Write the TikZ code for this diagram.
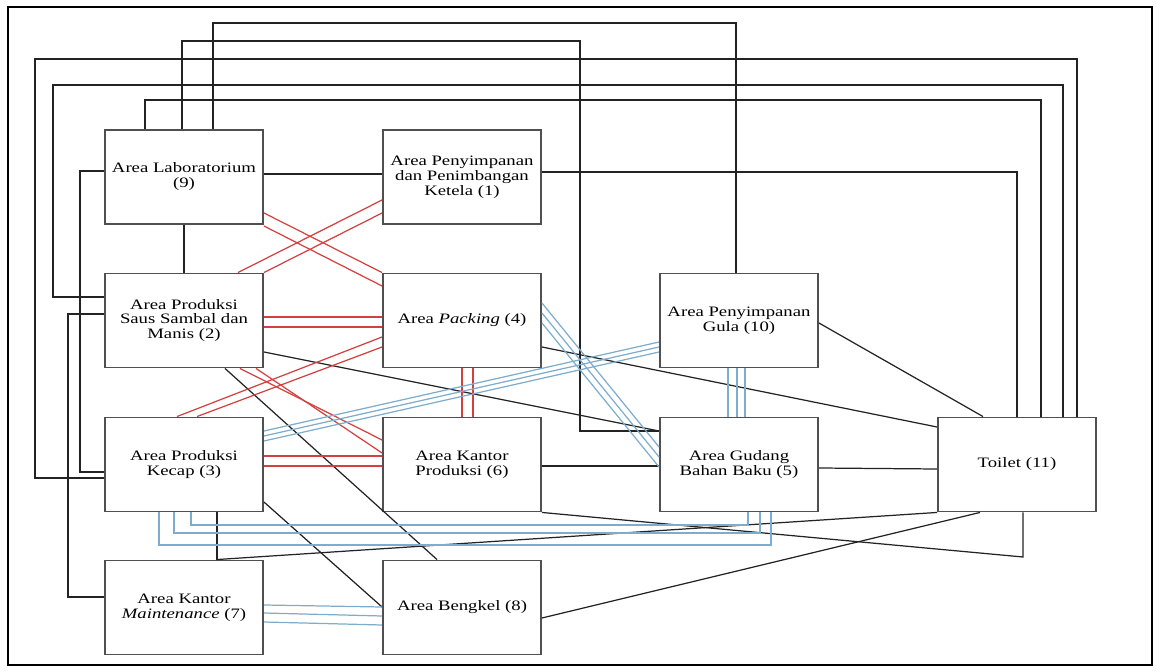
\documentclass[tikz,border=0pt]{standalone}
\usepackage{fontspec}
\setmainfont{Liberation Serif}[FakeStretch=1.3]
\definecolor{redl}{RGB}{212,64,64}
\definecolor{bluel}{RGB}{125,172,205}
\definecolor{boxc}{RGB}{80,80,80}
\definecolor{linec}{RGB}{35,35,35}
\begin{document}
\begin{tikzpicture}[x=0.02cm,y=-0.02cm,
 area/.style={draw=boxc, line width=1.1pt, minimum width=3.16cm, minimum height=1.88cm, inner sep=0pt, align=center, font=\fontsize{8.2}{8.5}\selectfont},
 blk/.style={draw=linec, line width=0.7pt},
 rd/.style={draw=redl, line width=0.7pt},
 bl/.style={draw=bluel, line width=0.7pt}]
\useasboundingbox (0,0) rectangle (1160,672);
\draw[line width=1.3pt] (8,7) rectangle (1152,665);

\node[area] (n9) at (184,177) {Area Laboratorium\\(9)};
\node[area] (n1) at (462,177) {Area Penyimpanan\\dan Penimbangan\\Ketela (1)};
\node[area] (n2) at (184,320.5) {Area Produksi\\Saus Sambal dan\\Manis (2)};
\node[area] (n4) at (462,320.5) {Area \textit{Packing} (4)};
\node[area] (n10) at (739,320.5) {Area Penyimpanan\\Gula (10)};
\node[area] (n3) at (184,464.5) {Area Produksi\\Kecap (3)};
\node[area] (n6) at (462,464.5) {Area Kantor\\Produksi (6)};
\node[area] (n5) at (739,464.5) {Area Gudang\\Bahan Baku (5)};
\node[area] (n11) at (1017,464.5) {Toilet (11)};
\node[area] (n7) at (184,607.5) {Area Kantor\\\textit{Maintenance} (7)};
\node[area] (n8) at (462,607.5) {Area Bengkel (8)};

% black connectors
\draw[blk] (n9.north -| 213,0) |- (736,23) -- (n10.north -| 736,0);
\draw[blk] (n9.north -| 182,0) |- (580,41) |- (n5.west |- 0,431);
\draw[blk] (n3.west |- 0,478) -| (35,59) -| (n11.north -| 1077,0);
\draw[blk] (n2.west |- 0,297) -| (53,85) -| (n11.north -| 1063,0);
\draw[blk] (n9.north -| 145,0) |- (1041,100) -- (n11.north -| 1041,0);
\draw[blk] (n1.east |- 0,172) -| (n11.north -| 1017,0);
\draw[blk] (n9.west |- 0,171) -| (80,472) -- (n3.west |- 0,472);
\draw[blk] (n2.west |- 0,314) -| (68,597) -- (n7.west |- 0,597);
\draw[blk] (n9) -- (n2);
\draw[blk] (n9.east |- 0,174) -- (n1.west |- 0,174);
\draw[blk] (n2.east |- 0,352) -- (n5.west |- 0,431);
\draw[blk] (n4.east |- 0,347) -- (n11.west |- 0,427);
\draw[blk] (n10.east |- 0,323) -- (n11.north -| 983,0);
\draw[blk] (n6.east |- 0,466) -- (n5.west |- 0,466);
\draw[blk] (n5.east |- 0,468) -- (n11.west |- 0,469);
\draw[blk] (n6.south east) -- (1023,557) -- (n11.south -| 1023,0);
\draw[blk] (n3.south -| 217,0) -- (n7.north -| 217,0);
\draw[blk] (n7.north -| 217,0) -- (n11.south west);
\draw[blk] (n3.east |- 0,502) -- (n8.west |- 0,607);
\draw[blk] (n2.south -| 225,0) -- (n8.north -| 437,0);
\draw[blk] (n8.east |- 0,618) -- (n11.south -| 980,0);

% red connectors
\draw[rd] (n9.east |- 0,213) -- (n4.north west);
\draw[rd] (n9.east |- 0,226) -- (n4.west |- 0,286);
\draw[rd] (n1.west |- 0,200) -- (n2.north -| 238,0);
\draw[rd] (n1.west |- 0,213) -- (n2.north east);
\draw[rd] (n2.east |- 0,317) -- (n4.west |- 0,317);
\draw[rd] (n2.east |- 0,327) -- (n4.west |- 0,327);
\draw[rd] (n4.west |- 0,337) -- (n3.north -| 177,0);
\draw[rd] (n4.west |- 0,347) -- (n3.north -| 197,0);
\draw[rd] (n2.south -| 240,0) -- (n6.west |- 0,440);
\draw[rd] (n2.south -| 256,0) -- (n6.west |- 0,453);
\draw[rd] (n3.east |- 0,456) -- (n6.west |- 0,456);
\draw[rd] (n3.east |- 0,466) -- (n6.west |- 0,466);
\draw[rd] (n4.south -| 462,0) -- (n6.north -| 462,0);
\draw[rd] (n4.south -| 473,0) -- (n6.north -| 473,0);

% blue connectors
\draw[bl] (n4.east |- 0,303) -- (n5.west |- 0,447);
\draw[bl] (n4.east |- 0,313) -- (n5.west |- 0,457);
\draw[bl] (n4.east |- 0,323) -- (n5.west |- 0,467);
\draw[bl] (n10.west |- 0,342) -- (n3.east |- 0,431);
\draw[bl] (n10.west |- 0,347) -- (n3.east |- 0,436);
\draw[bl] (n10.west |- 0,352) -- (n3.east |- 0,441);
\draw[bl] (n10.south -| 728,0) -- (n5.north -| 728,0);
\draw[bl] (n10.south -| 737,0) -- (n5.north -| 737,0);
\draw[bl] (n10.south -| 745,0) -- (n5.north -| 745,0);
\draw[bl] (n3.south -| 191,0) |- (748,525) -- (n5.south -| 748,0);
\draw[bl] (n3.south -| 174,0) |- (760,533) -- (n5.south -| 760,0);
\draw[bl] (n3.south -| 159,0) |- (771,545) -- (n5.south -| 771,0);
\draw[bl] (n7.east |- 0,605) -- (n8.west |- 0,607);
\draw[bl] (n7.east |- 0,613) -- (n8.west |- 0,616);
\draw[bl] (n7.east |- 0,622) -- (n8.west |- 0,625);
\end{tikzpicture}
\end{document}
